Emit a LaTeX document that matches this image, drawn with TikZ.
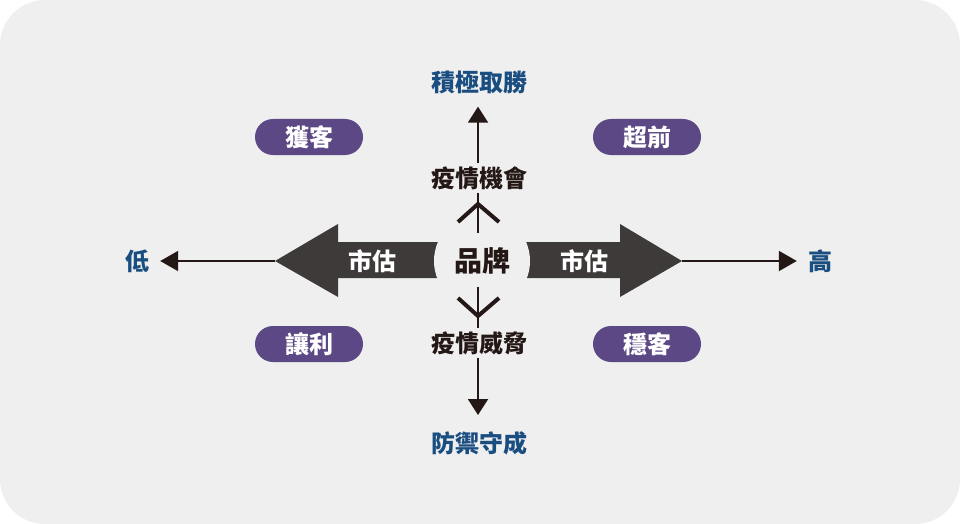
\documentclass[tikz,border=0pt]{standalone}
\usepackage{fontspec}
\newfontfamily\cjk{Noto Sans CJK TC}
\usepackage{tikz}
\usetikzlibrary{arrows.meta,shapes}

\definecolor{bggray}{HTML}{EFEFEF}
\definecolor{ink}{HTML}{231815}
\definecolor{bigarrow}{HTML}{3E3A39}
\definecolor{axisblue}{HTML}{1A4D80}
\definecolor{pillpurple}{HTML}{5B4884}

\tikzset{
  txt/.style={inner sep=0pt, text=ink, font=\cjk\bfseries\fontsize{24}{24}\selectfont},
  ends/.style={txt, text=axisblue},
  pill/.style={txt, text=white, fill=pillpurple, rounded corners=18pt,
    minimum width=108pt, minimum height=36pt},
  axis/.style={draw=ink, line width=2pt},
  chev/.style={draw=ink, line width=4pt, miter limit=10},
}

\begin{document}
\begin{tikzpicture}[x=1pt, y=-1pt]

  \newcommand\YM{261};

  % background
  \fill[white] (0,0) rectangle (960,524);
  \fill[bggray, rounded corners=45pt] (0,0) rectangle (960,524);
  \useasboundingbox (0,0) rectangle (960,524);

  % big arrows
  \fill[bigarrow] (275,\YM) -- (338,224) -- (338,242) -- (480,242)
    -- (480,278) -- (338,278) -- (338,297) -- cycle;
  \fill[bigarrow] (682,\YM) -- (620,224) -- (620,242) -- (480,242)
    -- (480,278) -- (620,278) -- (620,297) -- cycle;

  \coordinate (ltip) at (275,\YM);
  \coordinate (rtip) at (682,\YM);

  \node[txt, circle, fill=bggray, minimum size=96pt,
    font=\cjk\bfseries\fontsize{28}{28}\selectfont] (brand) at (482,\YM) {品牌};
  \node[txt, text=white] (mleft) at (372,\YM) {市估};
  \node[txt, text=white] (mright) at (584,\YM) {市估};

  \node[ends] (low) at (137,\YM) {低};
  \node[ends] (high) at (820,\YM) {高};
  \node[ends] (top) at (479,82) {積極取勝};
  \node[ends] (bottom) at (479,443) {防禦守成};

  \node[txt] (opp) at (479,178) {疫情機會};
  \node[txt] (threat) at (479,343) {疫情威脅};

  \node[pill] (gain) at (309,137) {獲客};
  \node[pill] (ahead) at (647,137) {超前};
  \node[pill] (yield) at (309,344) {讓利};
  \node[pill] (keep) at (647,344) {穩客};

  % axes
  \draw[axis, -{Triangle[length=18pt, width=20pt]}, shorten >=11pt] (ltip) -- (low);
  \draw[axis, -{Triangle[length=18pt, width=20pt]}, shorten >=11pt] (rtip) -- (high);

  \draw[axis, -{Triangle[length=16pt, width=20pt]},
    shorten <=3pt, shorten >=13pt] ([xshift=-1pt]opp.north) -- ([xshift=-1pt]top.south);
  \draw[axis, shorten <=3pt, shorten >=28pt] ([xshift=-1pt]opp.south) -- ([xshift=-4pt]brand.center);
  \draw[axis, shorten <=26pt, shorten >=3pt] ([xshift=-4pt]brand.center) -- ([xshift=-1pt]threat.north);
  \draw[axis, -{Triangle[length=16pt, width=20pt]},
    shorten <=3pt, shorten >=16pt] ([xshift=-1pt]threat.south) -- ([xshift=-1pt]bottom.north);

  % chevrons
  \draw[chev] (458,222) -- (478,204) -- (499,222);
  \draw[chev] (458,298) -- (478,316) -- (499,298);

\end{tikzpicture}
\end{document}
